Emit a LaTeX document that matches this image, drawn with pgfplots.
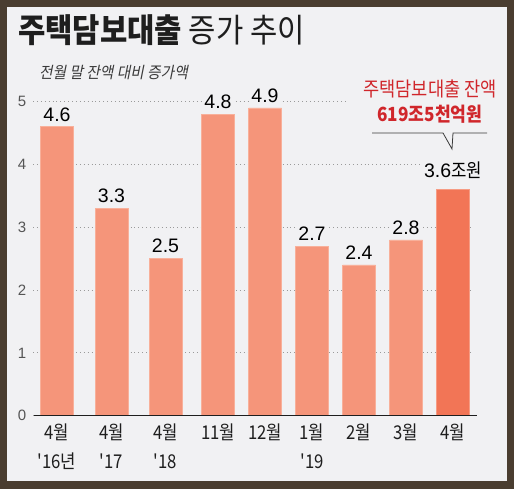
\documentclass[border=0pt]{standalone}
\usepackage{pgfplots}
\pgfplotsset{compat=1.18}
\usepackage{fontspec}
\setmainfont{Liberation Sans}
\newfontfamily\kr[Ligatures=TeXOff, FakeStretch=0.88]{Noto Sans CJK KR}
\newfontfamily\krt[FakeStretch=0.9]{Noto Sans CJK KR}
\newfontfamily\krsl[FakeSlant=0.2, FakeStretch=0.92]{Noto Sans CJK KR}
\newfontfamily\num{Liberation Sans}
\definecolor{framec}{HTML}{4A3D30}
\definecolor{bg}{HTML}{F1F1F3}
\definecolor{barc}{HTML}{F5957A}
\definecolor{bare}{HTML}{F8B09A}
\definecolor{lastc}{HTML}{F27556}
\definecolor{laste}{HTML}{F69C84}
\definecolor{redc}{HTML}{D0262B}
\definecolor{txt}{HTML}{1E1E1E}
\definecolor{subc}{HTML}{3A3A3A}
\definecolor{tickc}{HTML}{555555}
\definecolor{gridc}{HTML}{9A9A9A}
\begin{document}
\begin{tikzpicture}[x=1pt,y=1pt]
\fill[framec] (0,0) rectangle (514,489);
\fill[bg] (7,8) rectangle (507,482);
\node[anchor=base west, inner sep=0, text=txt] at (18,446) {\krt\fontsize{33}{33}\selectfont\bfseries 주택담보대출 \mdseries 증가 추이};
\node[anchor=base west, inner sep=0, text=subc] at (39,410) {\krsl\fontsize{16}{16}\selectfont 전월 말 잔액 대비 증가액};
\begin{axis}[
  at={(33pt,73.3pt)}, anchor=south west,
  scale only axis, width=440pt, height=314pt,
  xmin=33, xmax=473, ymin=0, ymax=5,
  clip=false,
  axis line style={draw=none},
  major tick length=0pt,
  ytick={0,1,2,3,4,5},
  ymajorgrids,
  grid style={gridc, line width=0.9pt, dash pattern=on 0.9pt off 3pt},
  /pgf/number format/assume math mode=true,
  yticklabel style={font=\num\fontsize{15}{15}\selectfont, text=tickc, anchor=center, xshift=-11pt},
  xtick={57,111.5,165.5,218,265,312,359,406,453},
  xticklabels={{4월\\'16년},{4월\\'17},{4월\\'18},{11월},{12월},{1월\\'19},{2월},{3월},{4월}},
  xticklabel style={font=\kr\fontsize{19}{28.5}\selectfont, text=txt, align=center, anchor=north, inner sep=0pt, yshift=-8pt},
]
\addplot[ybar, bar width=33pt, bar shift=0pt, fill=barc, draw=bare, line width=0.7pt,
  nodes near coords, point meta=y,
  nodes near coords style={font=\num\fontsize{19.5}{19.5}\selectfont, text=black, fill=bg, inner sep=1pt, anchor=base, yshift=5.7pt}]
  coordinates {(57,4.6) (111.5,3.3) (165.5,2.5) (218,4.8) (265,4.9) (312,2.7) (359,2.4) (406,2.8)};
\addplot[ybar, bar width=33pt, bar shift=0pt, fill=lastc, draw=laste, line width=0.7pt,
  nodes near coords={\num 3.6{\kr\fontsize{19}{19}\selectfont 조원}},
  nodes near coords style={font=\num\fontsize{19.5}{19.5}\selectfont, text=black, fill=bg, inner sep=1pt, anchor=base, yshift=11.7pt}]
  coordinates {(453,3.6)};
\draw[txt, line width=1.2pt] (axis cs:34,0) -- (axis cs:477,0);
\end{axis}
\fill[bg] (348,380) rectangle (480,395);
\node[anchor=base, text=redc, inner sep=0] at (430,392) {\kr\fontsize{20}{20}\selectfont 주택담보대출 잔액};
\node[anchor=base, text=redc, inner sep=0] at (430,367) {\kr\bfseries\fontsize{19.5}{19.5}\selectfont 619조5천억원};
\draw[subc, line width=0.8pt] (372,356) -- (443,356) -- (452,340) -- (453,356) -- (487,356);
\end{tikzpicture}
\end{document}
